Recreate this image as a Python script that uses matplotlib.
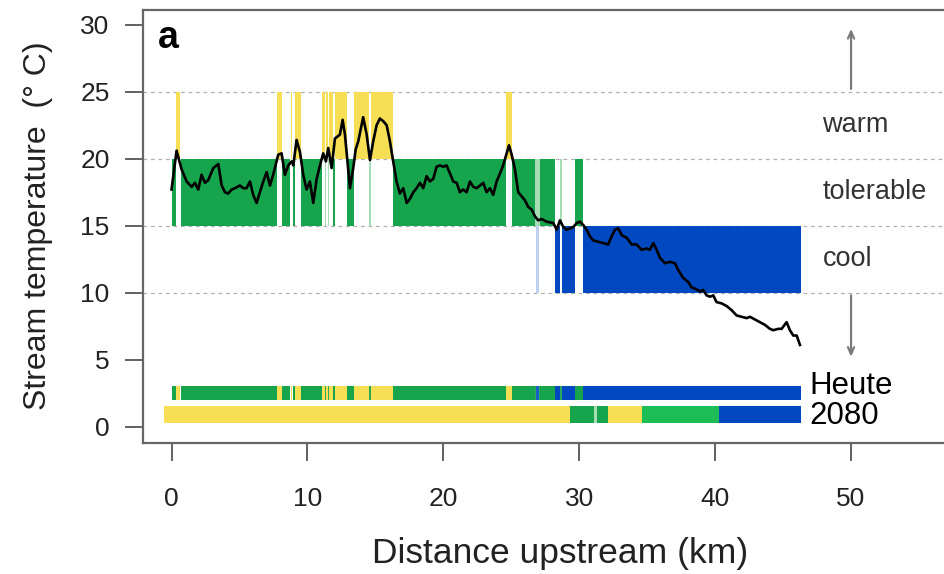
import matplotlib
matplotlib.use('Agg')
import matplotlib.pyplot as plt

plt.rcParams['font.family'] = ['Liberation Sans', 'DejaVu Sans']

# temperature profile (km, degC)
dist_km = [0.00, 0.37, 0.74, 1.11, 1.48, 1.72, 1.97, 2.21, 2.46, 2.70, 3.07, 3.44, 3.69, 3.93,
           4.17, 4.42, 4.67, 5.03, 5.28, 5.52, 5.77, 6.01, 6.26, 6.50, 6.75, 7.00, 7.24, 7.48,
           7.85, 8.10, 8.34, 8.59, 8.84, 8.96, 9.20, 9.45, 9.69, 9.94, 10.18, 10.43, 10.68,
           10.92, 11.16, 11.36, 11.53, 11.78, 12.02, 12.39, 12.59, 12.76, 13.13, 13.37, 13.55,
           13.74, 14.10, 14.36, 14.60, 14.84, 15.09, 15.33, 15.58, 15.83, 16.07, 16.31, 16.56,
           16.80, 17.05, 17.30, 17.54, 17.79, 18.03, 18.28, 18.52, 18.77, 19.01, 19.26, 19.50,
           19.75, 19.99, 20.24, 20.49, 20.73, 20.98, 21.22, 21.46, 21.71, 21.96, 22.20, 22.45,
           22.69, 22.94, 23.18, 23.43, 23.67, 23.92, 24.17, 24.40, 24.66, 24.83, 25.03, 25.27,
           25.51, 25.76, 26.00, 26.25, 26.50, 26.74, 26.98, 27.23, 27.60, 28.09, 28.34, 28.58,
           28.83, 29.07, 29.32, 29.56, 29.81, 30.05, 30.30, 30.54, 30.79, 31.03, 31.40, 31.77,
           32.13, 32.38, 32.63, 32.87, 33.12, 33.49, 33.86, 34.22, 34.59, 34.96, 35.20, 35.45,
           35.70, 35.94, 36.31, 36.67, 37.04, 37.28, 37.65, 38.02, 38.27, 38.51, 38.88, 39.12,
           39.37, 39.62, 39.86, 40.10, 40.48, 40.85, 41.21, 41.58, 41.95, 42.32, 42.56, 42.93,
           43.30, 43.66, 44.03, 44.28, 44.64, 44.89, 45.26, 45.50, 45.75, 46.00, 46.24]
temp_c = [17.7, 20.6, 19.2, 18.3, 17.9, 18.2, 17.7, 18.8, 18.2, 18.4, 19.3, 19.6, 18.0, 17.5,
          17.4, 17.7, 17.8, 18.0, 17.8, 17.8, 18.3, 17.3, 16.7, 17.5, 18.3, 19.0, 18.0, 18.8,
          20.3, 20.4, 18.8, 19.5, 19.8, 19.5, 21.4, 20.5, 18.8, 17.7, 18.3, 16.7, 18.5,
          19.5, 20.4, 19.8, 20.8, 19.3, 21.5, 21.8, 22.9, 21.8, 17.8, 19.3, 20.7,
          21.3, 23.1, 21.8, 19.9, 21.3, 22.5, 23.0, 22.8, 22.5, 21.3, 19.8, 18.3,
          17.4, 17.8, 16.7, 17.0, 17.5, 17.8, 18.2, 17.8, 18.7, 18.3, 18.5, 19.4,
          19.5, 19.4, 19.5, 18.9, 18.3, 18.2, 17.5, 17.7, 17.5, 18.3, 17.9, 17.8,
          18.0, 18.2, 17.5, 17.8, 17.3, 18.3, 18.9, 19.5, 20.4, 21.0, 20.3, 19.2,
          17.5, 17.2, 16.9, 16.4, 16.2, 15.7, 15.4, 15.5, 15.3, 15.2, 14.7, 15.4,
          14.9, 14.7, 14.8, 14.9, 15.2, 15.3, 15.05, 14.7, 14.2, 13.9, 13.8, 13.7,
          13.6, 14.2, 14.7, 14.8, 14.3, 14.1, 13.6, 13.6, 13.2, 13.3, 13.2, 13.7,
          13.2, 12.6, 12.2, 12.3, 12.2, 11.7, 11.1, 10.8, 10.4, 10.3, 10.1, 10.2,
          9.8, 9.7, 9.8, 9.3, 9.2, 9.0, 8.7, 8.3, 8.2, 8.1, 8.2, 8.0,
          7.8, 7.6, 7.3, 7.2, 7.3, 7.3, 7.8, 7.2, 6.8, 6.8, 6.1]

# present-day habitat classes along the stream
seg_start = [0.00, 0.34, 0.66, 7.78, 8.10, 8.76, 8.92, 9.06, 9.50, 11.10, 11.30, 11.36, 11.53,
             11.60, 11.90, 12.00, 12.90, 13.45, 14.55, 14.68, 16.27, 24.60, 25.05, 26.76, 26.80,
             27.10, 28.22, 28.55, 28.70, 29.70, 30.30]
seg_end = [0.30, 0.62, 7.76, 8.10, 8.72, 8.90, 9.05, 9.50, 11.06, 11.30, 11.36, 11.53, 11.60,
           11.90, 12.00, 12.90, 13.45, 14.55, 14.65, 16.27, 24.60, 25.03, 26.76, 27.10, 27.05,
           28.20, 28.55, 28.70, 29.68, 30.25, 46.30]
seg_class = ['tolerable', 'warm', 'tolerable', 'warm', 'tolerable', 'warm', 'tolerable', 'warm',
             'tolerable', 'warm', 'tol_light', 'warm', 'tol_light', 'warm', 'tolerable', 'warm',
             'tolerable', 'warm', 'tol_light', 'warm', 'tolerable', 'warm', 'tolerable',
             'tol_light', 'cool_light', 'tolerable', 'cool', 'tol_light', 'cool', 'tolerable',
             'cool']

# projected classes for 2080
fut_start = [-0.55, 29.30, 31.10, 31.30, 32.13, 34.60, 40.25]
fut_end = [29.30, 31.10, 31.30, 32.13, 34.60, 40.25, 46.30]
fut_class = ['warm', 'tolerable', 'tol_light', 'tolerable', 'warm', 'tol_bright', 'cool']

class_names = ['warm', 'tolerable', 'cool']
class_low = [20, 15, 10]

colors = {'warm': '#F6DF55', 'tolerable': '#16A44C', 'cool': '#0048C0',
          'tol_light': '#A6DDB4', 'cool_light': '#BDD0F0', 'tol_bright': '#1CBD55'}
band_low = {'warm': 20, 'tolerable': 15, 'cool': 10, 'tol_light': 15, 'cool_light': 10}
strip_col = {'warm': '#F6DF55', 'tolerable': '#16A44C', 'cool': '#0048C0',
             'tol_light': '#2BA85A', 'cool_light': '#1A5FC8', 'tol_bright': '#1CBD55'}

fig = plt.figure(figsize=(9.44, 5.74), dpi=100)
# plot box runs past the right edge of the picture, like the cropped original
ax = fig.add_axes([143 / 944, 131 / 574, 801 / 944, 433 / 574])
ax.set_xlim(-2.10, 56.84)
ax.set_ylim(-1.22, 31.10)

for yv in [10, 15, 20, 25]:
    ax.axhline(yv, color='#B0B0B0', lw=0.9, ls=(0, (3, 3)), zorder=1)

# class bands
for s, e, c in zip(seg_start, seg_end, seg_class):
    ax.broken_barh([(s, e - s)], (band_low[c], 5), facecolor=colors[c], edgecolor='none', zorder=2)
    ax.broken_barh([(s, e - s)], (2.0, 1.0), facecolor=strip_col[c], edgecolor='none', zorder=2)
for s, e, c in zip(fut_start, fut_end, fut_class):
    ax.broken_barh([(s, e - s)], (0.3, 1.25), facecolor=colors[c], edgecolor='none', zorder=2)

ax.plot(dist_km, temp_c, color='black', lw=1.9, zorder=3)

for name, lo in zip(class_names, class_low):
    ax.text(47.9, lo + 2.5, name, fontsize=19.5, color='#333333', ha='left', va='center')

arw = dict(arrowstyle='->,head_length=0.5,head_width=0.22', color='#7A7A7A', lw=1.6)
ax.annotate('', xy=(50, 29.9), xytext=(50, 25), arrowprops=arw)
ax.annotate('', xy=(50, 5.0), xytext=(50, 10), arrowprops=arw)

ax.text(46.95, 3.0, 'Heute', fontsize=22.5, ha='left', va='center')
ax.text(46.95, 0.8, '2080', fontsize=22.5, ha='left', va='center')
ax.text(-1.0, 29.0, 'a', fontsize=27, fontweight='bold', ha='left', va='center')

ax.set_xticks([0, 10, 20, 30, 40, 50])
ax.set_yticks([0, 5, 10, 15, 20, 25, 30])
ax.tick_params(axis='both', length=13, width=1.3, color='#555555', labelsize=19, labelcolor='#222222')
ax.tick_params(axis='x', pad=19)
ax.tick_params(axis='y', pad=11)
for sp in ax.spines.values():
    sp.set_color('#666666')
    sp.set_linewidth(1.6)
ax.spines['right'].set_visible(False)

fig.text(560 / 944, 1 - 554 / 574, 'Distance upstream (km)', fontsize=25.5, color='#222222',
         ha='center', va='center')
fig.text(38 / 944, 1 - 226 / 574, 'Stream temperature  (\u00b0 C)', fontsize=23, color='#222222',
         ha='center', va='center', rotation=90)

fig.savefig('out.png', dpi=100)
